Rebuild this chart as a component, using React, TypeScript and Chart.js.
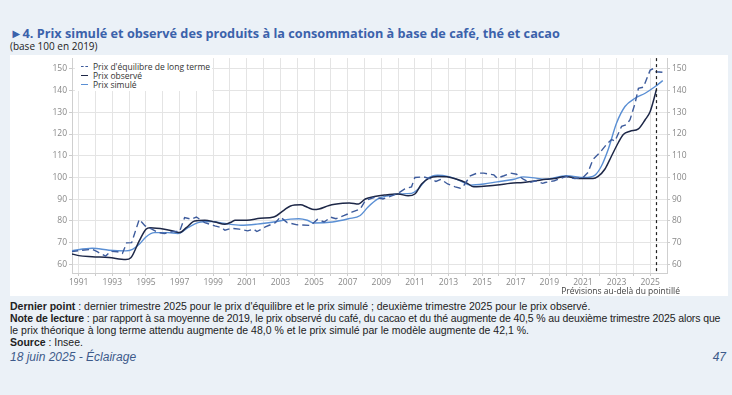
import React, { useEffect, useRef } from "react";
import { Chart, registerables } from "chart.js";

Chart.register(...registerables);

// ---- Data (base 100 en 2019) ----
const obsYears = [1990.55, 1991.0, 1991.8, 1992.8, 1993.8, 1994.1, 1994.6, 1995.0, 1995.25, 1996.1, 1996.7, 1997.0, 1997.4, 1997.9, 1998.5, 1999.1, 1999.7, 2000.1, 2000.3, 2001.0, 2001.8, 2002.6, 2003.2, 2003.6, 2004.2, 2004.6, 2005.0, 2005.3, 2005.9, 2006.7, 2007.1, 2007.65, 2008.05, 2008.6, 2009.2, 2010.0, 2010.6, 2011.0, 2011.4, 2011.8, 2012.35, 2012.9, 2013.5, 2014.1, 2014.5, 2015.1, 2015.9, 2016.7, 2017.45, 2018.2, 2018.8, 2019.3, 2020.0, 2020.5, 2021.1, 2021.6, 2021.9, 2022.3, 2022.7, 2023.1, 2023.4, 2023.8, 2024.3, 2024.7, 2025.0, 2025.375];
const obsValues = [64.9, 64.0, 63.5, 63.1, 62.2, 63.0, 70.8, 76.2, 76.9, 76.2, 75.1, 74.6, 76.9, 80.0, 80.3, 79.5, 78.5, 79.5, 80.3, 80.3, 81.2, 81.8, 84.9, 86.9, 87.4, 86.3, 85.2, 85.5, 87.1, 88.1, 88.3, 87.8, 90.1, 91.2, 91.9, 92.4, 91.6, 92.4, 97.0, 99.5, 100.5, 100.3, 99.2, 97.4, 95.7, 96.0, 96.5, 97.4, 97.7, 98.5, 99.2, 99.5, 100.5, 99.7, 99.5, 99.5, 100.5, 103.8, 109.9, 116.0, 119.8, 121.3, 122.4, 126.6, 130.4, 140.5];

const eqYears = [1990.55, 1991.2, 1991.8, 1992.1, 1992.6, 1992.9, 1993.3, 1993.6, 1993.85, 1994.15, 1994.6, 1994.95, 1995.35, 1995.75, 1996.1, 1996.6, 1997.0, 1997.3, 1997.7, 1998.0, 1998.5, 1999.1, 1999.5, 1999.7, 2000.1, 2000.55, 2001.05, 2001.4, 2001.6, 2002.1, 2002.7, 2003.0, 2003.4, 2004.0, 2004.8, 2005.2, 2005.6, 2006.0, 2006.3, 2006.8, 2007.25, 2007.75, 2008.05, 2008.6, 2009.1, 2009.5, 2010.0, 2010.4, 2010.8, 2011.0, 2011.5, 2011.9, 2012.25, 2012.55, 2012.95, 2013.4, 2013.7, 2013.9, 2014.3, 2014.7, 2015.1, 2015.7, 2015.9, 2016.3, 2016.7, 2017.05, 2017.45, 2017.85, 2018.2, 2018.6, 2018.75, 2019.3, 2020.0, 2020.5, 2021.0, 2021.3, 2021.6, 2022.0, 2022.4, 2022.7, 2022.9, 2023.3, 2023.6, 2023.8, 2024.1, 2024.3, 2024.6, 2025.0, 2025.2, 2025.35, 2025.8];
const eqValues = [65.8, 66.5, 66.9, 65.8, 63.8, 66.0, 65.8, 65.0, 69.9, 70.0, 80.7, 77.7, 76.2, 74.6, 74.2, 75.1, 75.1, 81.5, 80.8, 81.8, 79.2, 77.7, 76.9, 75.7, 76.6, 76.2, 75.4, 76.2, 75.1, 77.2, 79.2, 81.8, 79.2, 78.2, 77.9, 80.7, 79.5, 81.7, 81.0, 82.5, 84.0, 85.5, 89.3, 90.9, 90.1, 91.2, 92.7, 94.7, 95.7, 100.0, 100.3, 99.5, 98.2, 99.2, 97.0, 95.7, 95.1, 96.2, 100.8, 102.0, 102.0, 101.2, 99.7, 100.8, 102.0, 101.5, 99.2, 97.7, 98.5, 97.3, 97.7, 98.5, 100.5, 99.5, 100.0, 102.3, 108.4, 111.4, 115.2, 117.5, 116.7, 123.6, 124.4, 126.6, 134.2, 141.1, 141.6, 149.5, 150.2, 148.7, 148.4];

const simYears = [1990.55, 1991.8, 1992.8, 1993.8, 1994.2, 1994.6, 1995.0, 1995.5, 1996.3, 1996.9, 1997.5, 1998.1, 1998.9, 1999.7, 2000.65, 2001.6, 2002.6, 2003.6, 2004.1, 2004.6, 2005.0, 2006.1, 2007.05, 2007.75, 2008.2, 2008.8, 2009.4, 2010.0, 2010.8, 2011.2, 2011.7, 2012.35, 2012.95, 2013.7, 2014.3, 2015.1, 2015.9, 2016.9, 2017.45, 2018.2, 2018.8, 2020.0, 2021.1, 2021.7, 2022.1, 2022.5, 2023.0, 2023.5, 2024.1, 2024.7, 2025.3, 2025.75];
const simValues = [66.2, 67.4, 66.5, 66.2, 66.9, 69.2, 72.6, 74.6, 74.6, 74.2, 76.9, 79.2, 79.7, 78.8, 78.0, 78.5, 79.5, 80.8, 81.0, 80.3, 79.0, 79.5, 81.0, 82.5, 86.3, 90.1, 91.6, 92.4, 92.7, 94.7, 99.2, 101.0, 100.5, 98.5, 96.5, 97.0, 98.0, 99.2, 100.3, 99.7, 99.2, 100.8, 100.0, 101.0, 105.3, 112.9, 125.1, 132.7, 136.5, 138.8, 141.9, 144.6];

const forecastStart = 2025.375;
const yTicks = [60, 70, 80, 90, 100, 110, 120, 130, 140, 150];
const firstYear = 1991;
const lastYear = 2025;

const seriesLabels = ["Prix d'équilibre de long terme", "Prix observé", "Prix simulé"];

const COL_EQ = "#3d5b9c";
const COL_OBS = "#1d2747";
const COL_SIM = "#5a8fd4";

const toPoints = (xs: number[], ys: number[]) => xs.map((x, i) => ({ x, y: ys[i] }));

const FONT = "'Open Sans', 'Noto Sans', sans-serif";
const NARROW = "'Liberation Sans Narrow', 'Liberation Sans', sans-serif";

export default function App() {
  const ref = useRef<HTMLCanvasElement | null>(null);

  useEffect(() => {
    document.body.style.margin = "0";
    const canvas = ref.current;
    if (!canvas) return;

    const forecastPlugin = {
      id: "forecastLine",
      afterDatasetsDraw(chart: any) {
        const { ctx, chartArea, scales } = chart;
        const x = scales.x.getPixelForValue(forecastStart);
        ctx.save();
        ctx.strokeStyle = "#222";
        ctx.lineWidth = 1.2;
        ctx.setLineDash([3, 3]);
        ctx.beginPath();
        ctx.moveTo(x, chartArea.top);
        ctx.lineTo(x, chartArea.bottom);
        ctx.stroke();
        ctx.setLineDash([]);
        ctx.fillStyle = "#444";
        ctx.font = "8.5px " + FONT;
        ctx.textAlign = "right";
        ctx.textBaseline = "middle";
        ctx.fillText("Prévisions au-delà du pointillé", chartArea.right + 13, chartArea.bottom + 18.5);
        ctx.restore();
      },
    };

    const yAxisCommon = {
      min: 56,
      max: 155,
      afterBuildTicks: (s: any) => {
        s.ticks = yTicks.map((v) => ({ value: v }));
      },
      ticks: { color: "#888", font: { size: 8.5, family: FONT }, padding: 2 },
    };

    const chart = new Chart(canvas, {
      type: "line",
      data: {
        datasets: [
          {
            label: seriesLabels[0],
            data: toPoints(eqYears, eqValues),
            borderColor: COL_EQ,
            borderWidth: 1.4,
            borderDash: [7, 4],
            pointRadius: 0,
            tension: 0,
          },
          {
            label: seriesLabels[1],
            data: toPoints(obsYears, obsValues),
            borderColor: COL_OBS,
            borderWidth: 1.5,
            pointRadius: 0,
            cubicInterpolationMode: "monotone",
          },
          {
            label: seriesLabels[2],
            data: toPoints(simYears, simValues),
            borderColor: COL_SIM,
            borderWidth: 1.4,
            pointRadius: 0,
            cubicInterpolationMode: "monotone",
          },
        ],
      },
      options: {
        animation: false,
        responsive: false,
        events: [],
        layout: { padding: { top: 2, left: 0, right: 0, bottom: 0 } },
        plugins: { legend: { display: false }, tooltip: { enabled: false } },
        scales: {
          x: {
            type: "linear",
            min: 1990.6,
            max: 2026.0,
            afterBuildTicks: (s: any) => {
              const t = [];
              for (let y = firstYear; y <= lastYear; y++) t.push({ value: y });
              s.ticks = t;
            },
            afterFit: (s: any) => {
              s.height = 23;
            },
            ticks: {
              color: "#888",
              font: { size: 8.5, family: FONT },
              padding: 1,
              maxRotation: 0,
              autoSkip: false,
              callback: (v: any) => (Number(v) % 2 === 1 ? String(v) : ""),
            },
            grid: { color: "#e4e4e4", tickLength: 3, tickColor: "#ccc" },
            border: { color: "#cfcfcf" },
          },
          y: {
            ...yAxisCommon,
            position: "left",
            afterFit: (s: any) => {
              s.width = 62;
            },
            grid: { color: "#e4e4e4", tickLength: 3, tickColor: "#ccc" },
            border: { color: "#cfcfcf" },
          },
          y2: {
            ...yAxisCommon,
            position: "right",
            afterFit: (s: any) => {
              s.width = 61;
            },
            grid: { drawOnChartArea: false, tickLength: 3, tickColor: "#ccc" },
            border: { color: "#cfcfcf" },
          },
        },
      },
      plugins: [forecastPlugin],
    } as any);

    return () => chart.destroy();
  }, []);

  const legendRow = (i: number, dashed: boolean, color: string) => (
    <div style={{ display: "flex", alignItems: "center", height: 9 }}>
      <div
        style={{
          width: 7,
          height: 0,
          borderTop: `1.5px ${dashed ? "dashed" : "solid"} ${color}`,
          marginRight: 5,
        }}
      />
      <span>{seriesLabels[i]}</span>
    </div>
  );

  return (
    <div
      style={{
        position: "relative",
        width: 732,
        height: 395,
        background: "#ebf1f7",
        fontFamily: FONT,
        overflow: "hidden",
      }}
    >
      <div
        style={{
          position: "absolute",
          left: 10,
          top: 24,
          fontSize: 12.7,
          fontWeight: 700,
          color: "#3b62ab",
          whiteSpace: "nowrap",
        }}
      >
        ►4. Prix simulé et observé des produits à la consommation à base de café, thé et cacao
      </div>
      <div style={{ position: "absolute", left: 10, top: 39, fontSize: 10, color: "#222" }}>
        (base 100 en 2019)
      </div>
      <div style={{ position: "absolute", left: 10, top: 55, width: 718, height: 241, background: "#fff" }}>
        <canvas
          ref={ref}
          width={718}
          height={245}
          style={{ display: "block", position: "absolute", left: 0, top: -4 }}
        />
        <div
          style={{
            position: "absolute",
            left: 65,
            top: 3,
            width: 137,
            height: 33,
            background: "#fff",
            fontSize: 8.5,
            color: "#333",
            padding: "4px 0 0 6px",
            boxSizing: "border-box",
          }}
        >
          {legendRow(0, true, COL_EQ)}
          {legendRow(1, false, COL_OBS)}
          {legendRow(2, false, COL_SIM)}
        </div>
      </div>
      <div
        style={{
          position: "absolute",
          left: 10,
          top: 300,
          width: 720,
          fontFamily: NARROW,
          fontSize: 10.5,
          lineHeight: "12px",
          color: "#222",
          whiteSpace: "nowrap",
        }}
      >
        <div>
          <b>Dernier point</b> : dernier trimestre 2025 pour le prix d'équilibre et le prix simulé ; deuxième trimestre 2025 pour le prix observé.
        </div>
        <div style={{ letterSpacing: "-0.12px" }}>
          <b>Note de lecture</b> : par rapport à sa moyenne de 2019, le prix observé du café, du cacao et du thé augmente de 40,5 % au deuxième trimestre 2025 alors que
        </div>
        <div>le prix théorique à long terme attendu augmente de 48,0 % et le prix simulé par le modèle augmente de 42,1 %.</div>
        <div>
          <b>Source</b> : Insee.
        </div>
      </div>
      <div
        style={{
          position: "absolute",
          left: 10,
          top: 350,
          fontFamily: "'Liberation Sans', sans-serif",
          fontStyle: "italic",
          fontSize: 12,
          color: "#3d5a8a",
        }}
      >
        18 juin 2025 - Éclairage
      </div>
      <div
        style={{
          position: "absolute",
          right: 6,
          top: 350,
          fontFamily: "'Liberation Sans', sans-serif",
          fontStyle: "italic",
          fontSize: 12,
          color: "#3d5a8a",
        }}
      >
        47
      </div>
    </div>
  );
}
